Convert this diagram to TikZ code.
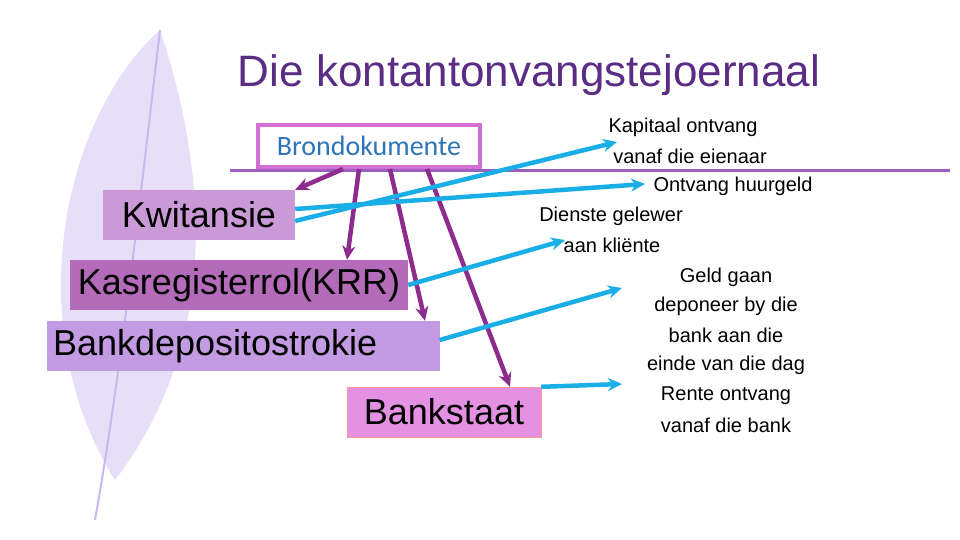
\documentclass[tikz,border=0pt]{standalone}
\usepackage{fontspec}
\setmainfont{Liberation Sans}
\newfontfamily\calibri{Carlito}
\usetikzlibrary{arrows.meta}
\definecolor{titlepurple}{HTML}{5B2C83}
\definecolor{linepurple}{HTML}{9B5FC0}
\definecolor{arrowpurple}{HTML}{8E2C8E}
\definecolor{arrowcyan}{HTML}{1AAEE6}
\definecolor{bronblue}{HTML}{2E75B6}
\definecolor{featherlav}{HTML}{C8B8EE}
\definecolor{kwitfill}{HTML}{C99AD6}
\definecolor{krrfill}{HTML}{B46CBA}
\definecolor{bdsfill}{HTML}{C29BE2}
\definecolor{bstfill}{HTML}{E591E3}
\definecolor{bronedge}{HTML}{D56FD6}

\begin{document}
\begin{tikzpicture}[x=1pt,y=-1pt,
    doc node/.style={minimum height=50pt,font=\fontsize{36}{38}\selectfont,inner sep=0pt},
    txt node/.style={font=\fontsize{20}{22}\selectfont,inner sep=0pt},
    to doc/.style={-{Stealth[length=14pt,width=13pt]},arrowpurple,line width=4.5pt},
    to txt/.style={-{Stealth[length=14pt,width=13pt]},arrowcyan,line width=4.5pt}
    ]
    \useasboundingbox (0,0) rectangle (960,540);

    % feather
    \fill[featherlav,opacity=0.45] (115,480) .. controls (20,330) and (60,120) .. (160,30)
        .. controls (200,150) and (230,330) .. (115,480);
    \draw[featherlav,line width=2pt] (95,520) .. controls (120,380) and (140,200) .. (160,30);

    \node[titlepurple,font=\fontsize{44}{46}\selectfont] (title) at (529,75) {Die kontantonvangstejoernaal};
    \draw[linepurple,line width=3pt] (230,171) -- (950,171);

    \node[draw=bronedge,line width=4pt,fill=white,minimum width=222pt,minimum height=42pt,
        text=bronblue,font=\calibri\fontsize{28}{30}\selectfont] (bron) at (369,146) {Brondokumente};

    \node[doc node,fill=kwitfill,minimum width=192pt] (kwit) at (199,215) {Kwitansie};
    \node[doc node,fill=krrfill,minimum width=338pt] (krr) at (239,285) {Kasregisterrol(KRR)};
    \node[doc node,fill=bdsfill,minimum width=393pt,text width=380pt,align=left] (bds) at (243,346) {Bankdepositostrokie};
    \node[doc node,fill=bstfill,draw=red!40,minimum width=194pt] (bst) at (444,412) {Bankstaat};

    % right texts
    \node[txt node] (t1) at (683,127) {Kapitaal ontvang};
    \node[txt node] (t2) at (690,156) {vanaf die eienaar};
    \node[txt node] (t3) at (733,186) {Ontvang huurgeld};
    \node[txt node] (t4) at (611,216) {Dienste gelewer};
    \node[txt node] (t5) at (612,245) {aan kliënte};
    \node[txt node] (t6) at (726,277) {Geld gaan};
    \node[txt node] (t7) at (726,306) {deponeer by die};
    \node[txt node] (t8) at (726,335) {bank aan die};
    \node[txt node] (t9) at (726,365) {einde van die dag};
    \node[txt node] (t10) at (726,396) {Rente ontvang};
    \node[txt node] (t11) at (726,425) {vanaf die bank};

    \coordinate (c1) at (617,142);
    \coordinate (c2) at (645,184);
    \coordinate (c3) at (565,240);
    \coordinate (c4) at (622,288);
    \coordinate (c5) at (622,384);

    \draw[to doc] ([xshift=-26pt]bron.south) -- (kwit.north east);
    \draw[to doc] ([xshift=-10pt]bron.south) -- ([xshift=108pt]krr.north);
    \draw[to doc] ([xshift=21pt]bron.south) -- ([xshift=182pt]bds.north);
    \draw[to doc] ([xshift=58pt]bron.south) -- ([xshift=66pt]bst.north);

    \draw[to txt] ([yshift=-6pt]kwit.east) -- (c1);
    \draw[to txt] ([yshift=6pt]kwit.east) -- (c2);
    \draw[to txt] (krr.east) -- (c3);
    \draw[to txt] ([yshift=6pt]bds.east) -- (c4);
    \draw[to txt] (bst.north east) -- (c5);
\end{tikzpicture}
\end{document}
